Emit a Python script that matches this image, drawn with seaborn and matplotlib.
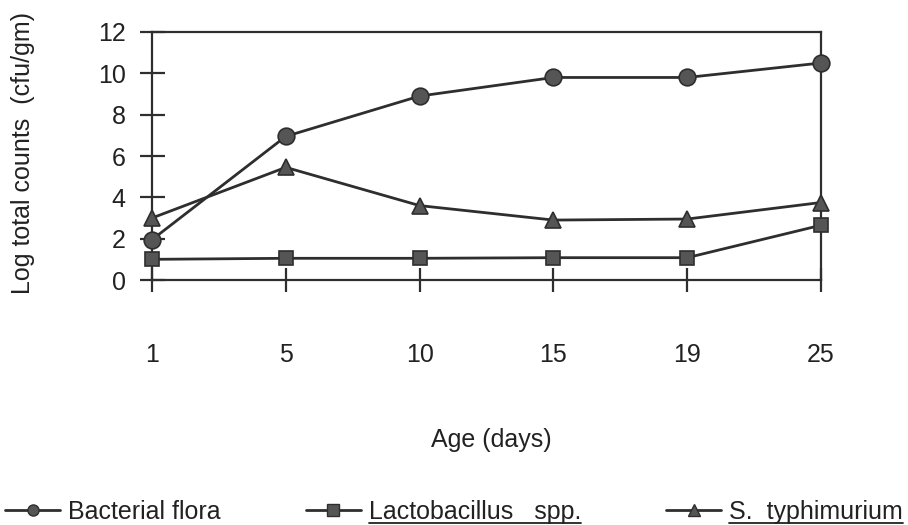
import matplotlib
matplotlib.use("Agg")
import matplotlib.pyplot as plt
from matplotlib.lines import Line2D
import seaborn as sns
import pandas as pd

days = ["1", "5", "10", "15", "19", "25"]
bacterial_flora = [1.95, 6.95, 8.9, 9.8, 9.8, 10.5]
lactobacillus = [1.0, 1.05, 1.05, 1.08, 1.08, 2.65]
typhimurium = [3.0, 5.45, 3.6, 2.9, 2.95, 3.75]
series_names = ["Bacterial flora", "Lactobacillus   spp.", "S.  typhimurium"]
y_ticks = [0, 2, 4, 6, 8, 10, 12]

sns.set_theme(style="white")
plt.rcParams["font.family"] = ["Liberation Sans", "DejaVu Sans"]
plt.rcParams["xtick.direction"] = "inout"
plt.rcParams["ytick.direction"] = "inout"
plt.rcParams["xtick.bottom"] = True
plt.rcParams["ytick.left"] = True

rows = []
for name, vals in zip(series_names, [bacterial_flora, lactobacillus, typhimurium]):
    for i, (d, v) in enumerate(zip(days, vals)):
        rows.append({"pos": i, "day": d, "value": v, "series": name})
df = pd.DataFrame(rows)

line_col = "#2e2e2e"
face_col = "#555555"
txt_col = "#222222"
fs = 18
markers = {series_names[0]: "o", series_names[1]: "s", series_names[2]: "^"}
msizes = {series_names[0]: 12, series_names[1]: 10.5, series_names[2]: 12}

fig = plt.figure(figsize=(9.08, 5.25), dpi=100)
ax = fig.add_axes([152 / 908, 1 - 280 / 525, 669 / 908, 248 / 525])

for name in series_names:
    sub = df[df["series"] == name]
    sns.lineplot(data=sub, x="pos", y="value", ax=ax, color=line_col,
                 marker=markers[name], markersize=msizes[name],
                 markerfacecolor=face_col, markeredgecolor=line_col,
                 markeredgewidth=1.2, linewidth=2.0, clip_on=False,
                 legend=False, zorder=3)

ax.set_xlim(0, len(days) - 1)
ax.set_ylim(0, 12)
ax.set_xticks(range(len(days)))
ax.set_xticklabels(days)
ax.set_yticks(y_ticks)

for sp in ax.spines.values():
    sp.set_color(line_col)
    sp.set_linewidth(1.6)
    sp.set_visible(True)

ax.tick_params(axis="y", which="major", direction="inout", length=18, width=1.6,
               color=line_col, pad=10, labelsize=fs, labelcolor=txt_col, left=True)
ax.tick_params(axis="x", which="major", direction="inout", length=17, width=1.6,
               color=line_col, pad=37, labelsize=fs, labelcolor=txt_col, bottom=True)

ax.set_xlabel("Age (days)", fontsize=fs, color=txt_col)
ax.xaxis.set_label_coords((491 - 152) / 669, (280 - 428) / 248)
ax.xaxis.label.set_va("top")
ax.set_ylabel("Log total counts  (cfu/gm)", fontsize=fs, color=txt_col)
ax.yaxis.set_label_coords((35 - 152) / 669, (280 - 153) / 248)

handles = [Line2D([], [], color=line_col, linewidth=2.0, marker=markers[n],
                  markersize=8, markerfacecolor=face_col, markeredgecolor=line_col)
           for n in series_names]
leg = fig.legend(handles, series_names, loc="center left",
                 bbox_to_anchor=(5 / 908, 1 - 512 / 525), ncol=3, frameon=False,
                 fontsize=fs, handlelength=2.2, handletextpad=0.32,
                 columnspacing=3.4, borderpad=0, borderaxespad=0)
for t in leg.get_texts():
    t.set_color(txt_col)

fig.canvas.draw()
renderer = fig.canvas.get_renderer()
for t in leg.get_texts()[1:]:
    bb = t.get_window_extent(renderer)
    fx0, fx1 = bb.x0 / fig.bbox.width, bb.x1 / fig.bbox.width
    fy = (bb.y0 + 1) / fig.bbox.height
    fig.add_artist(Line2D([fx0, fx1], [fy, fy], color=txt_col, linewidth=1.3,
                          transform=fig.transFigure))

fig.savefig("out.png", dpi=100, facecolor="white")
